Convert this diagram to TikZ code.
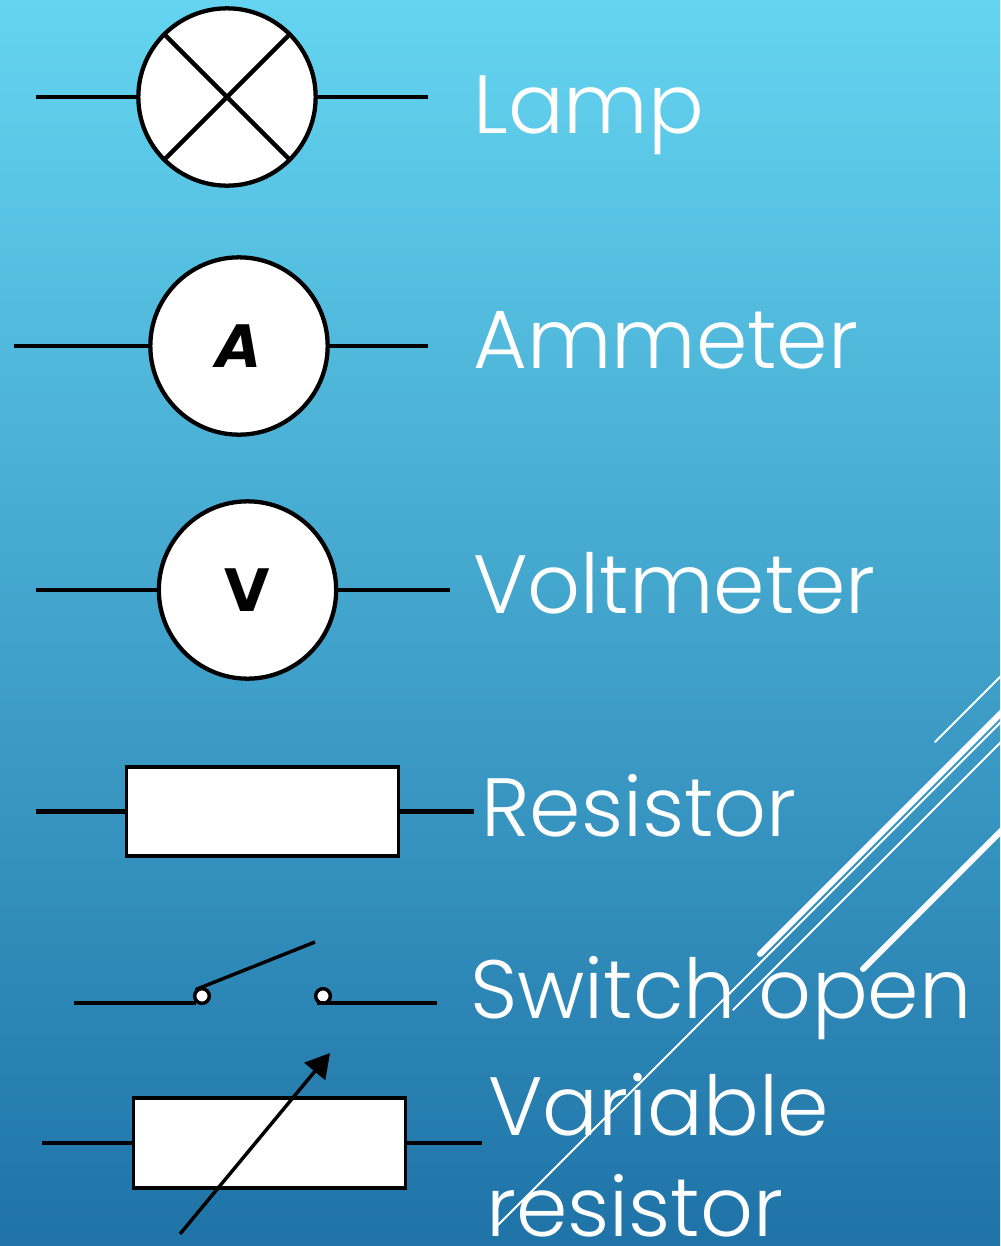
\documentclass[tikz,border=0pt]{standalone}
\usepackage{fontspec}
\setmainfont{Poppins}[UprightFont=* Light]
\newfontfamily\meterfont{DejaVu Sans}
\usetikzlibrary{arrows.meta,calc}
\definecolor{bgtop}{RGB}{100,212,240}
\definecolor{bgmid}{RGB}{66,167,207}
\definecolor{bgbot}{RGB}{31,115,167}
\begin{document}
\begin{tikzpicture}[x=0.75pt,y=-0.75pt,
  wire/.style={line width=3.2pt, draw=black},
  comp/.style={draw=black, line width=3.2pt, fill=white, inner sep=0pt},
  meter/.style={comp, circle, minimum size=133pt},
  resbox/.style={comp, rectangle, line width=2.8pt, minimum width=204pt, minimum height=67pt},
  contact/.style={draw=black, fill=white, circle, line width=2.6pt, minimum size=11pt, inner sep=0pt},
  lbl/.style={anchor=base west, inner sep=0pt, text=white, font=\fontsize{62}{68}\selectfont},
  mlbl/.style={font=\meterfont\bfseries\fontsize{44}{50}\selectfont},
  deco/.style={draw=white, line cap=round},
]
% background
\useasboundingbox (0,0) rectangle (1000,1246);
\shade[top color=bgtop, middle color=bgmid, bottom color=bgbot] (0,0) rectangle (1000,1246);

% decorative lines
\draw[deco, line width=1.5pt] (935,742) -- (1010,667);
\draw[deco, line width=4.5pt] (760,954) -- (1010,704);
\draw[deco, line width=1.5pt] (498,1225) -- (1010,713);
\draw[deco, line width=1.5pt] (733,1010) -- (1010,733);
\draw[deco, line width=4.5pt] (863,969) -- (1010,822);

% Lamp
\node[meter] (lamp) at (227,97) {};
\coordinate (lampL) at (36,97);
\coordinate (lampR) at (428,97);
\draw[wire] (lampL) -- (lamp.west);
\draw[wire] (lamp.east) -- (lampR);
\draw[wire] (lamp.135) -- (lamp.-45);
\draw[wire] (lamp.45) -- (lamp.-135);

% Ammeter
\node[meter, mlbl] (amm) at (239,346) {\itshape A};
\coordinate (ammL) at (14,346);
\coordinate (ammR) at (428,346);
\draw[wire] (ammL) -- (amm.west);
\draw[wire] (amm.east) -- (ammR);

% Voltmeter
\node[meter, mlbl] (volt) at (247.5,590) {V};
\coordinate (voltL) at (36,590);
\coordinate (voltR) at (450,590);
\draw[wire] (voltL) -- (volt.west);
\draw[wire] (volt.east) -- (voltR);

% Resistor
\node[resbox] (res) at (262.5,811.5) {};
\coordinate (resL) at (36,811.5);
\coordinate (resR) at (474,811.5);
\draw[wire] (resL) -- (res.west);
\draw[wire] (res.east) -- (resR);

% Switch open
\node[contact] (swa) at (202,996) {};
\node[contact] (swb) at (323,996) {};
\coordinate (swL) at (74,1003);
\coordinate (swR) at (437,1003);
\coordinate (lever) at (315,942);
\draw[wire, line width=2.6pt] (swL) -- (swL -| swa.south west);
\draw[wire, line width=2.6pt] (swR -| swb.south west) -- (swR);
\draw[wire, line width=2.6pt] (swa.north west) -- (lever);

% Variable resistor
\node[resbox] (vres) at (269.5,1143) {};
\coordinate (vresL) at (42,1143);
\coordinate (vresR) at (482,1143);
\coordinate (varA) at (180,1234);
\coordinate (varB) at (330,1053);
\draw[wire] (vresL) -- (vres.west);
\draw[wire] (vres.east) -- (vresR);
\draw[wire, line width=2.6pt, -{Triangle[length=18pt,width=20pt]}] (varA) -- (varB);

% labels
\node[lbl] (tlamp) at (473,133) {Lamp};
\node[lbl] (tamm) at (473,368) {Ammeter};
\node[lbl] (tvolt) at (473,613) {Voltmeter};
\node[lbl] (tres) at (481,836) {Resistor};
\node[lbl] (tsw) at (470,1018) {Switch open};
\node[lbl] (tvar) at (488,1135) {Variable};
\node[lbl] (tvar2) at (486,1236) {resistor};
\end{tikzpicture}
\end{document}
